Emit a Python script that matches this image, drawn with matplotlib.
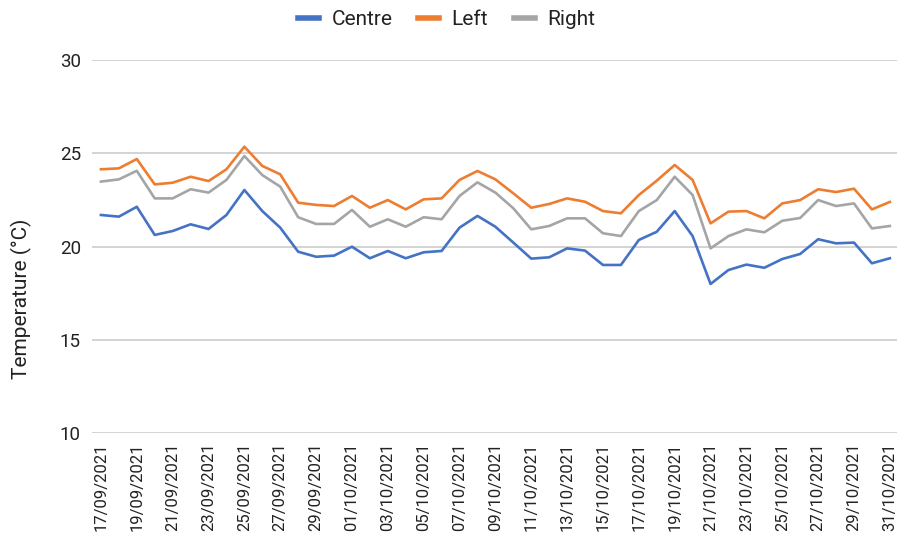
import matplotlib
matplotlib.use('Agg')
import matplotlib.pyplot as plt
import numpy as np
import pandas as pd

plt.rcParams['font.family'] = ['Roboto', 'DejaVu Sans']

# daily values, 17/09/2021 .. 31/10/2021
dates = pd.date_range('2021-09-17', '2021-10-31', freq='D')
centre = [21.69, 21.60, 22.13, 20.62, 20.83, 21.19, 20.94, 21.69, 23.03, 21.90,
          21.01, 19.72, 19.45, 19.51, 19.99, 19.37, 19.76, 19.37, 19.69, 19.76,
          21.01, 21.64, 21.06, 20.21, 19.35, 19.42, 19.90, 19.78, 19.01, 19.01,
          20.35, 20.79, 21.90, 20.56, 17.99, 18.74, 19.03, 18.86, 19.33, 19.60,
          20.39, 20.17, 20.21, 19.10, 19.37]
left = [24.14, 24.19, 24.69, 23.33, 23.42, 23.74, 23.51, 24.14, 25.35, 24.32,
        23.87, 22.35, 22.23, 22.17, 22.71, 22.08, 22.49, 21.99, 22.53, 22.58,
        23.57, 24.05, 23.60, 22.85, 22.08, 22.28, 22.58, 22.40, 21.90, 21.78,
        22.76, 23.53, 24.37, 23.57, 21.24, 21.87, 21.90, 21.51, 22.31, 22.49,
        23.07, 22.92, 23.10, 21.99, 22.39]
right = [23.48, 23.60, 24.06, 22.58, 22.58, 23.07, 22.89, 23.57, 24.85, 23.83,
         23.21, 21.57, 21.21, 21.21, 21.96, 21.06, 21.46, 21.06, 21.57, 21.46,
         22.71, 23.44, 22.89, 22.05, 20.92, 21.10, 21.51, 21.51, 20.71, 20.56,
         21.90, 22.49, 23.74, 22.76, 19.90, 20.56, 20.92, 20.76, 21.38, 21.53,
         22.49, 22.17, 22.31, 20.97, 21.10]
date_labels = [d.strftime('%d/%m/%Y') for d in dates]

fig = plt.figure(figsize=(8.99, 5.54), dpi=100)
ax = fig.add_axes([0.1023, 0.2184, 0.8955, 0.6733])

x = np.arange(len(dates))
l1, = ax.plot(x, centre, color='#4472C4', lw=1.9, label='Centre')
l2, = ax.plot(x, left, color='#ED7D31', lw=1.9, label='Left')
l3, = ax.plot(x, right, color='#A5A5A5', lw=1.9, label='Right')

ax.set_ylim(10, 30)
ax.set_yticks([10, 15, 20, 25, 30])
ax.set_xlim(-0.5, len(dates) - 0.6)
ax.set_xticks(x[::2])
ax.set_xticklabels(date_labels[::2], rotation=90, fontsize=12, color='#222222')
ax.tick_params(axis='y', labelsize=13.5, labelcolor='#222222', length=0, pad=8)
ax.tick_params(axis='x', length=0, pad=7)
ax.grid(axis='y', color='#cccccc', lw=1.2)
ax.set_axisbelow(True)
for s in ax.spines.values():
    s.set_visible(False)
ax.set_ylabel('Temperature (°C)', fontsize=15, color='#222222')
ax.yaxis.set_label_coords(-0.075, 0.36)

leg = fig.legend(handles=[l1, l2, l3], loc='upper center', bbox_to_anchor=(0.497, 1.015),
                 ncol=3, frameon=False, handlelength=1.0, handletextpad=0.6,
                 columnspacing=1.25, fontsize=15)
for h in leg.get_lines():
    h.set_linewidth(4)
for t in leg.get_texts():
    t.set_color('#222222')

fig.savefig('out.png', dpi=100)
